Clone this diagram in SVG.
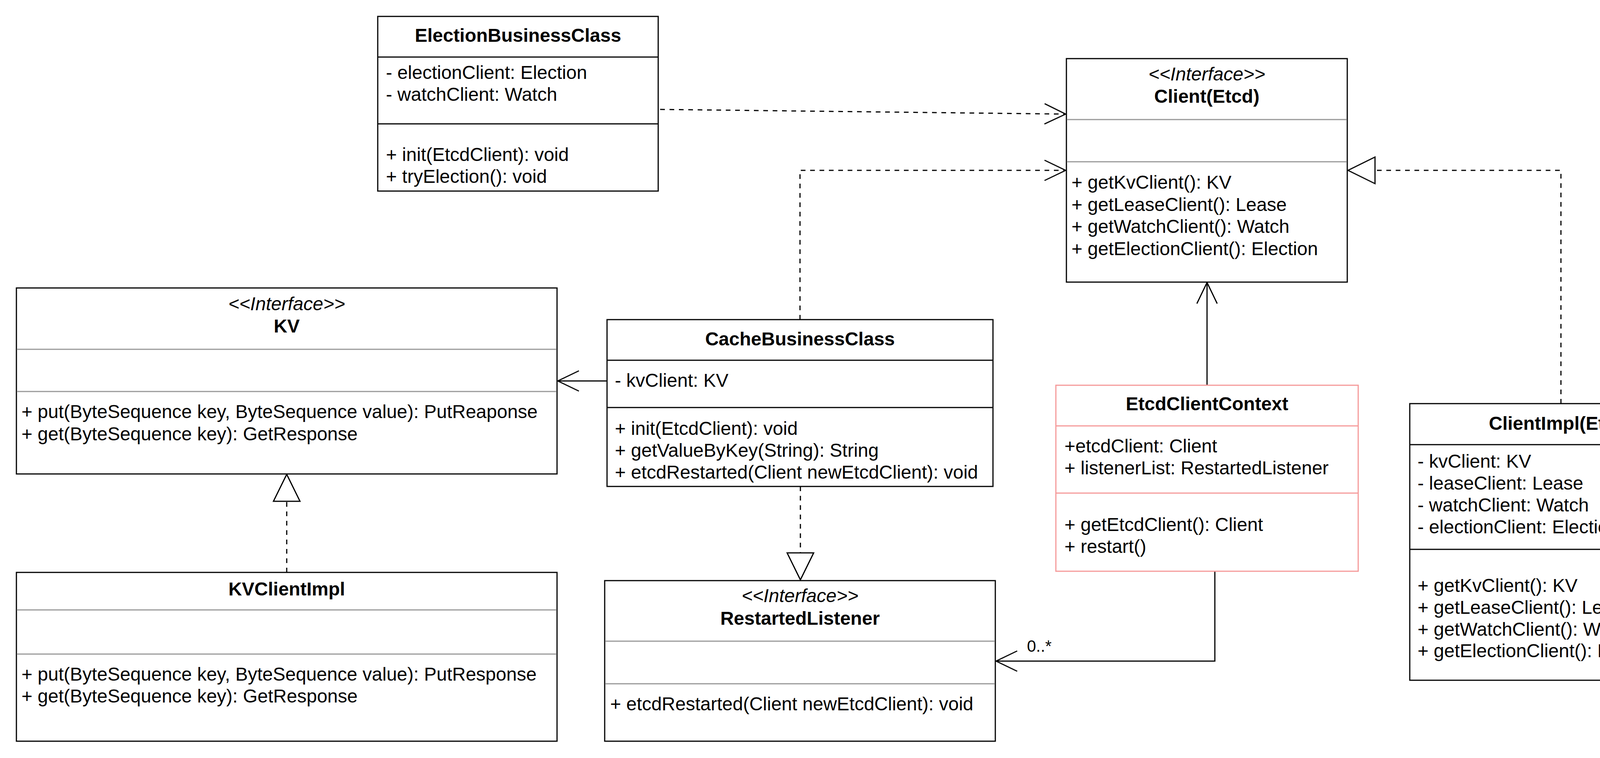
<svg xmlns="http://www.w3.org/2000/svg" width="4424" height="1940" viewBox="0 0 4424 1940">
<defs>
<style>
.box{fill:#ffffff;stroke:#000000;stroke-width:3}
.pbox{fill:#ffffff;stroke:#F59A9A;stroke-width:3}
.div{stroke:#000000;stroke-width:3}
.pdiv{stroke:#F59A9A;stroke-width:3}
.gdiv{stroke:#999999;stroke-width:3}
text{font-family:"Liberation Sans",Arial,Helvetica,sans-serif;font-size:48px;fill:#000000}
.title{font-weight:bold;text-anchor:middle}
.st{font-style:italic;text-anchor:middle}
.lbl{font-size:42px}
.edge{fill:none;stroke:#000000;stroke-width:3}
.dash{stroke-dasharray:12 12}
</style>
<marker id="open" markerUnits="userSpaceOnUse" markerWidth="70" markerHeight="70" viewBox="-60 -35 70 70" refX="0" refY="0" orient="auto" overflow="visible">
<path d="M-54,-26 L0,0 L-54,26" fill="none" stroke="#000000" stroke-width="3" stroke-dasharray="none"/>
</marker>
<marker id="tri" markerUnits="userSpaceOnUse" markerWidth="80" markerHeight="80" viewBox="-75 -40 80 80" refX="0" refY="0" orient="auto" overflow="visible">
<path d="M-69,-34 L0,0 L-69,34 Z" fill="#ffffff" stroke="#000000" stroke-width="3" stroke-dasharray="none"/>
</marker>
</defs>
<rect width="4424" height="1940" fill="#ffffff"/>

<g id="connectors">
<path class="edge dash" d="M1690,280 L2728,292" marker-end="url(#open)"/>
<path class="edge dash" d="M2048,818 L2048,436 L2728,436" marker-end="url(#open)"/>
<path class="edge dash" d="M3996,1033 L3996,436 L3451,436" marker-end="url(#tri)"/>
<path class="edge" d="M3090,986 L3090,723" marker-end="url(#open)"/>
<path class="edge" d="M1554,975 L1428,975" marker-end="url(#open)"/>
<path class="edge dash" d="M734,1465 L734,1214" marker-end="url(#tri)"/>
<path class="edge dash" d="M2049,1245 L2049,1484" marker-end="url(#tri)"/>
<path class="edge" d="M3110,1462 L3110,1692 L2550,1692" marker-end="url(#open)"/>
<text class="lbl" x="2629" y="1668">0..*</text>
</g>

<g id="ElectionBusinessClass">
<rect class="box" x="967" y="42" width="718" height="447"/>
<line class="div" x1="967" y1="146" x2="1685" y2="146"/>
<line class="div" x1="967" y1="317" x2="1685" y2="317"/>
<text class="title" x="1326" y="107">ElectionBusinessClass</text>
<text x="988" y="202">- electionClient: Election</text>
<text x="988" y="258">- watchClient: Watch</text>
<text x="988" y="412">+ init(EtcdClient): void</text>
<text x="988" y="468">+ tryElection(): void</text>
</g>

<g id="ClientEtcd">
<rect class="box" x="2730" y="150" width="719" height="572"/>
<line class="gdiv" x1="2731" y1="306" x2="3448" y2="306"/>
<line class="gdiv" x1="2731" y1="414" x2="3448" y2="414"/>
<text class="st" x="3089.5" y="206">&lt;&lt;Interface&gt;&gt;</text>
<text class="title" x="3089.5" y="263">Client(Etcd)</text>
<text x="2743" y="483">+ getKvClient(): KV</text>
<text x="2743" y="540">+ getLeaseClient(): Lease</text>
<text x="2743" y="596">+ getWatchClient(): Watch</text>
<text x="2743" y="653">+ getElectionClient(): Election</text>
</g>

<g id="KV">
<rect class="box" x="42" y="737" width="1384" height="476"/>
<line class="gdiv" x1="43" y1="894" x2="1425" y2="894"/>
<line class="gdiv" x1="43" y1="1002" x2="1425" y2="1002"/>
<text class="st" x="734" y="794">&lt;&lt;Interface&gt;&gt;</text>
<text class="title" x="734" y="851">KV</text>
<text x="55" y="1070">+ put(ByteSequence key, ByteSequence value): PutReaponse</text>
<text x="55" y="1127">+ get(ByteSequence key): GetResponse</text>
</g>

<g id="KVClientImpl">
<rect class="box" x="42" y="1465" width="1384" height="432"/>
<line class="gdiv" x1="43" y1="1561" x2="1425" y2="1561"/>
<line class="gdiv" x1="43" y1="1674" x2="1425" y2="1674"/>
<text class="title" x="734" y="1524">KVClientImpl</text>
<text x="55" y="1742">+ put(ByteSequence key, ByteSequence value): PutResponse</text>
<text x="55" y="1798">+ get(ByteSequence key): GetResponse</text>
</g>

<g id="CacheBusinessClass">
<rect class="box" x="1554" y="818" width="988" height="427"/>
<line class="div" x1="1554" y1="922" x2="2542" y2="922"/>
<line class="div" x1="1554" y1="1043" x2="2542" y2="1043"/>
<text class="title" x="2048" y="884">CacheBusinessClass</text>
<text x="1574" y="990">- kvClient: KV</text>
<text x="1574" y="1113">+ init(EtcdClient): void</text>
<text x="1574" y="1169">+ getValueByKey(String): String</text>
<text x="1574" y="1225">+ etcdRestarted(Client newEtcdClient): void</text>
</g>

<g id="RestartedListener">
<rect class="box" x="1548" y="1486" width="1000" height="411"/>
<line class="gdiv" x1="1549" y1="1641" x2="2547" y2="1641"/>
<line class="gdiv" x1="1549" y1="1750" x2="2547" y2="1750"/>
<text class="st" x="2048" y="1541">&lt;&lt;Interface&gt;&gt;</text>
<text class="title" x="2048" y="1599">RestartedListener</text>
<text x="1562" y="1818">+ etcdRestarted(Client newEtcdClient): void</text>
</g>

<g id="EtcdClientContext">
<rect class="pbox" x="2703" y="986" width="774" height="476"/>
<line class="pdiv" x1="2703" y1="1090" x2="3477" y2="1090"/>
<line class="pdiv" x1="2703" y1="1262" x2="3477" y2="1262"/>
<text class="title" x="3090" y="1050">EtcdClientContext</text>
<text x="2725" y="1158">+etcdClient: Client</text>
<text x="2725" y="1214">+ listenerList: RestartedListener</text>
<text x="2725" y="1359">+ getEtcdClient(): Client</text>
<text x="2725" y="1415">+ restart()</text>
</g>

<g id="ClientImplEtcd">
<rect class="box" x="3609" y="1033" width="773" height="708"/>
<line class="div" x1="3609" y1="1138" x2="4382" y2="1138"/>
<line class="div" x1="3609" y1="1406" x2="4382" y2="1406"/>
<text class="title" x="3995.5" y="1100">ClientImpl(Etcd)</text>
<text x="3629" y="1197">- kvClient: KV</text>
<text x="3629" y="1253">- leaseClient: Lease</text>
<text x="3629" y="1309">- watchClient: Watch</text>
<text x="3629" y="1365">- electionClient: Election</text>
<text x="3629" y="1515">+ getKvClient(): KV</text>
<text x="3629" y="1571">+ getLeaseClient(): Lease</text>
<text x="3629" y="1627">+ getWatchClient(): Watch</text>
<text x="3629" y="1682">+ getElectionClient(): Election</text>
</g>
</svg>
